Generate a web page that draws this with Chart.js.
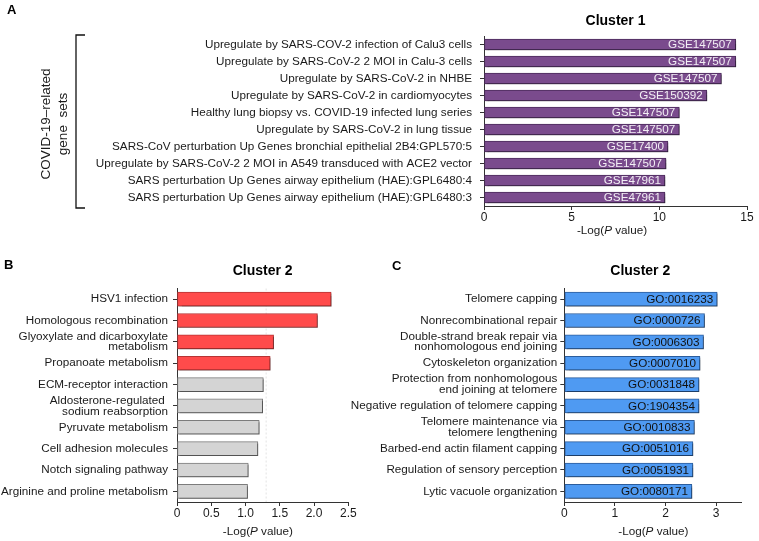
<!DOCTYPE html>
<html>
<head>
<meta charset="utf-8">
<script src="https://cdn.jsdelivr.net/npm/chart.js@4.4.0/dist/chart.umd.min.js"></script>
<style>
  body { margin: 0; background: #fff; }
  #wrap { position: relative; width: 759px; height: 541px; font-family: "Liberation Sans", Arial, sans-serif; }
  .box { position: absolute; }
  .tag { position: absolute; font-weight: bold; font-size: 13px; line-height: 13px; color: #000; }
</style>
</head>
<body>
<div id="wrap">
  <div class="box" style="left:0;top:0;width:759px;height:240px"><canvas id="chartA"></canvas></div>
  <div class="box" style="left:0;top:240px;width:385px;height:301px"><canvas id="chartB"></canvas></div>
  <div class="box" style="left:330px;top:240px;width:429px;height:301px"><canvas id="chartC"></canvas></div>
  <div class="tag" style="left:7px;top:3px">A</div>
  <div class="tag" style="left:4px;top:258px">B</div>
  <div class="tag" style="left:392px;top:259px">C</div>
</div>
<script>
// panel A - COVID-19 related gene sets
const geneSets = [
  'Upregulate by SARS-COV-2 infection of Calu3 cells',
  'Upregulate by SARS-CoV-2 2 MOI in Calu-3 cells',
  'Upregulate by SARS-CoV-2 in NHBE',
  'Upregulate by SARS-CoV-2 in cardiomyocytes',
  'Healthy lung biopsy vs. COVID-19 infected lung series',
  'Upregulate by SARS-CoV-2 in lung tissue',
  'SARS-CoV perturbation Up Genes bronchial epithelial 2B4:GPL570:5',
  'Upregulate by SARS-CoV-2 2 MOI in A549 transduced with ACE2 vector',
  'SARS perturbation Up Genes airway epithelium (HAE):GPL6480:4',
  'SARS perturbation Up Genes airway epithelium (HAE):GPL6480:3'
];
const geneSetValues = [14.36, 14.36, 13.54, 12.71, 11.14, 11.14, 10.49, 10.38, 10.32, 10.32];
const geneSetIds = ['GSE147507', 'GSE147507', 'GSE147507', 'GSE150392', 'GSE147507',
  'GSE147507', 'GSE17400', 'GSE147507', 'GSE47961', 'GSE47961'];
const ticksA = [0, 5, 10, 15];
const bracketLines = ['COVID-19\u2013related', 'gene  sets'];

// panel B - KEGG pathways
const pathways = [
  'HSV1 infection',
  'Homologous recombination',
  ['Glyoxylate and dicarboxylate', 'metabolism'],
  'Propanoate metabolism',
  'ECM-receptor interaction',
  ['Aldosterone-regulated ', 'sodium reabsorption'],
  'Pyruvate metabolism',
  'Cell adhesion molecules',
  'Notch signaling pathway',
  'Arginine and proline metabolism'
];
const pathwayValues = [2.25, 2.05, 1.41, 1.36, 1.26, 1.25, 1.20, 1.18, 1.04, 1.03];
const ticksB = [0, 0.5, 1, 1.5, 2, 2.5];
const threshold = 1.301; // -log10(0.05)

// panel C - GO terms
const goTerms = [
  'Telomere capping',
  'Nonrecombinational repair',
  ['Double-strand break repair via', 'nonhomologous end joining'],
  'Cytoskeleton organization',
  ['Protection from nonhomologous', 'end joining at telomere'],
  'Negative regulation of telomere capping',
  ['Telomere maintenance via', 'telomere lengthening'],
  'Barbed-end actin filament capping',
  'Regulation of sensory perception',
  'Lytic vacuole organization'
];
const goValues = [3.02, 2.77, 2.75, 2.68, 2.66, 2.66, 2.57, 2.54, 2.54, 2.52];
const goIds = ['GO:0016233', 'GO:0000726', 'GO:0006303', 'GO:0007010', 'GO:0031848',
  'GO:1904354', 'GO:0010833', 'GO:0051016', 'GO:0051931', 'GO:0080171'];
const ticksC = [0, 1, 2, 3];

const FONT = '"Liberation Sans", Arial, sans-serif';
Chart.defaults.font.family = FONT;
Chart.defaults.color = '#1a1a1a';

function drawAxisTitle(ctx, x, y) {
  const parts = [['-Log(', ''], ['P', 'italic '], [' value)', '']];
  let total = 0;
  parts.forEach(p => { ctx.font = p[1] + '11.7px ' + FONT; total += ctx.measureText(p[0]).width; });
  let cx = x - total / 2;
  ctx.textAlign = 'left';
  ctx.textBaseline = 'middle';
  ctx.fillStyle = '#1a1a1a';
  parts.forEach(p => {
    ctx.font = p[1] + '11.7px ' + FONT;
    ctx.fillText(p[0], cx, y);
    cx += ctx.measureText(p[0]).width;
  });
}

function barChart(o) {
  const decor = {
    id: 'decor',
    beforeDatasetsDraw(chart) {
      const ctx = chart.ctx;
      if (o.threshold) {
        const a = chart.chartArea;
        const tx = chart.scales.x.getPixelForValue(o.threshold);
        ctx.save();
        ctx.strokeStyle = '#e4e4e4';
        ctx.setLineDash([2, 2]);
        ctx.beginPath();
        ctx.moveTo(tx, a.top);
        ctx.lineTo(tx, a.bottom);
        ctx.stroke();
        ctx.restore();
      }
      ctx.save();
      ctx.shadowColor = 'rgba(0,0,0,0.35)';
      ctx.shadowOffsetX = 1.5;
      ctx.shadowOffsetY = 1.5;
      ctx.shadowBlur = 1;
    },
    afterDatasetsDraw(chart) {
      const ctx = chart.ctx;
      ctx.restore();
      if (o.ids) {
        ctx.save();
        ctx.font = '11.7px ' + FONT;
        ctx.fillStyle = o.idColor;
        ctx.textAlign = 'right';
        ctx.textBaseline = 'middle';
        chart.getDatasetMeta(0).data.forEach((bar, i) => {
          ctx.fillText(o.ids[i], bar.x - 4, bar.y + 0.5);
        });
        ctx.restore();
      }
    },
    afterDraw(chart) {
      const ctx = chart.ctx;
      const a = chart.chartArea;
      const sx = chart.scales.x;
      ctx.save();
      ctx.font = 'bold 14px ' + FONT;
      ctx.fillStyle = '#000';
      ctx.textAlign = 'center';
      ctx.textBaseline = 'middle';
      ctx.fillText(o.title, sx.getPixelForValue(o.titleAt), a.top - o.titleGap);
      drawAxisTitle(ctx, sx.getPixelForValue(o.axisTitleAt), a.bottom + o.axisTitleGap);
      ctx.restore();
      if (o.extra) o.extra(ctx);
    }
  };

  return new Chart(document.getElementById(o.id), {
    type: 'bar',
    data: {
      labels: o.labels,
      datasets: [{
        data: o.values,
        backgroundColor: o.colors,
        borderColor: o.borders,
        borderWidth: 1,
        borderSkipped: false,
        barThickness: o.thickness
      }]
    },
    options: {
      indexAxis: 'y',
      responsive: true,
      maintainAspectRatio: false,
      animation: false,
      layout: { padding: o.padding },
      plugins: { legend: { display: false }, tooltip: { enabled: false } },
      scales: {
        x: {
          min: 0,
          max: o.xMax,
          afterBuildTicks: s => { s.ticks = o.ticks.map(v => ({ value: v })); },
          afterFit: s => { s.height = o.xHeight; },
          grid: { drawOnChartArea: false, tickLength: 4, color: '#333' },
          border: { color: '#333', width: 1 },
          ticks: {
            padding: 0, color: '#1a1a1a', font: { size: 12 }, maxRotation: 0, autoSkip: false,
            callback: o.tickFmt || (v => String(v))
          }
        },
        y: {
          afterFit: s => { s.width = o.yWidth; },
          grid: { drawOnChartArea: false, offset: false, tickLength: 4, color: '#333' },
          border: { color: '#333', width: 1 },
          ticks: { padding: o.labelPad, color: '#1a1a1a', font: { size: 11.7, lineHeight: 0.92 }, autoSkip: false }
        }
      }
    },
    plugins: [decor]
  });
}

barChart({
  id: 'chartA',
  labels: geneSets,
  values: geneSetValues,
  ids: geneSetIds,
  idColor: '#f2eef4',
  colors: '#7a4b8d',
  borders: '#4c2b5c',
  thickness: 11,
  xMax: 15,
  ticks: ticksA,
  padding: { top: 36, right: 12, left: 0, bottom: 0 },
  xHeight: 34,
  yWidth: 484,
  labelPad: 8,
  title: 'Cluster 1', titleAt: 7.5, titleGap: 15,
  axisTitleAt: 7.3, axisTitleGap: 25,
  extra(ctx) {
    ctx.save();
    ctx.strokeStyle = '#111';
    ctx.lineWidth = 1.3;
    ctx.beginPath();
    ctx.moveTo(85, 35);
    ctx.lineTo(76, 35);
    ctx.lineTo(76, 208);
    ctx.lineTo(85, 208);
    ctx.stroke();
    ctx.font = '13.5px ' + FONT;
    ctx.fillStyle = '#1a1a1a';
    ctx.textAlign = 'center';
    ctx.textBaseline = 'middle';
    [46, 63].forEach((x, i) => {
      ctx.save();
      ctx.translate(x, 124);
      ctx.rotate(-Math.PI / 2);
      ctx.fillText(bracketLines[i], 0, 0);
      ctx.restore();
    });
    ctx.restore();
  }
});

barChart({
  id: 'chartB',
  labels: pathways,
  values: pathwayValues,
  colors: pathwayValues.map(v => v > threshold ? '#ff4b4b' : '#d4d4d4'),
  borders: pathwayValues.map(v => v > threshold ? '#b73434' : '#7c7c7c'),
  thickness: 14,
  xMax: 2.5,
  ticks: ticksB,
  tickFmt: v => v === 0 ? '0' : v.toFixed(1),
  threshold: threshold,
  padding: { top: 48.5, right: 36.7, left: 0, bottom: 0 },
  xHeight: 39,
  yWidth: 177,
  labelPad: 5,
  title: 'Cluster 2', titleAt: 1.25, titleGap: 17.5,
  axisTitleAt: 1.18, axisTitleGap: 30
});

barChart({
  id: 'chartC',
  labels: goTerms,
  values: goValues,
  ids: goIds,
  idColor: '#111',
  colors: '#4f9af2',
  borders: '#2c5d9c',
  thickness: 14,
  xMax: 3.5,
  ticks: ticksC,
  padding: { top: 48.5, right: 17.5, left: 0, bottom: 0 },
  xHeight: 39,
  yWidth: 234.3,
  labelPad: 3,
  title: 'Cluster 2', titleAt: 1.5, titleGap: 17.5,
  axisTitleAt: 1.76, axisTitleGap: 30
});
</script>
</body>
</html>
